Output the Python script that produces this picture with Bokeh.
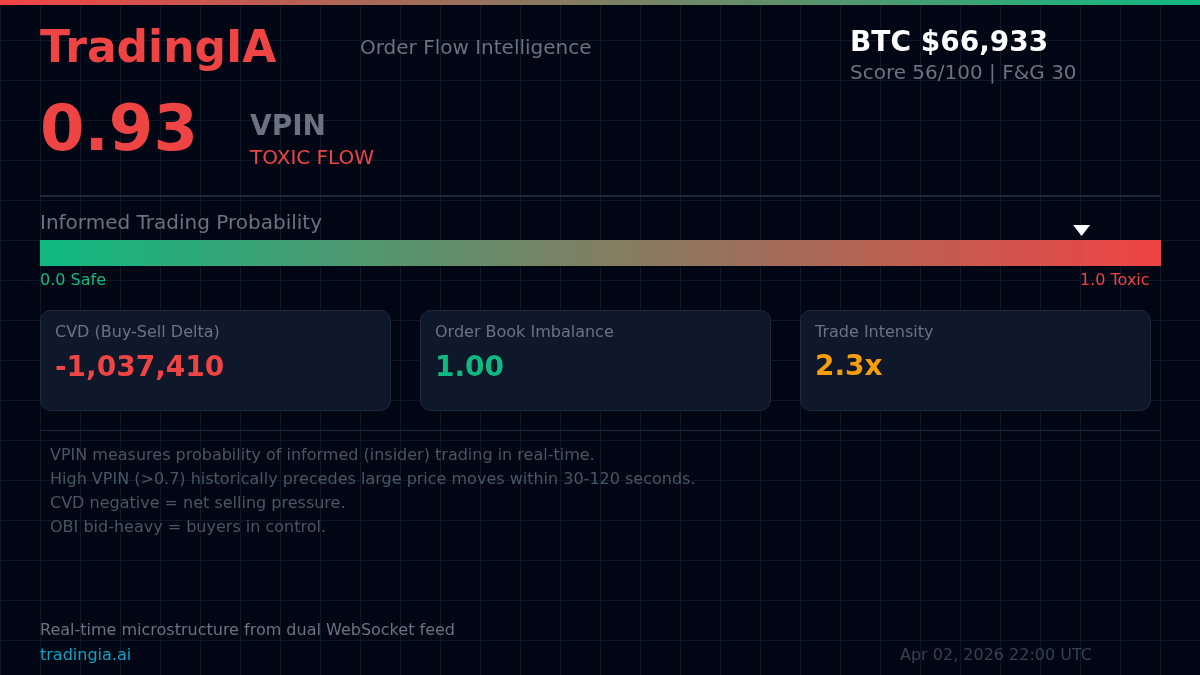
from bokeh.core.properties import value
from bokeh.embed import file_html
from bokeh.models import ColumnDataSource, FixedTicker, Range1d
from bokeh.plotting import figure
from bokeh.resources import INLINE

# values
brand = "TradingIA"
tagline = "Order Flow Intelligence"
price_label = "BTC $66,933"
score_label = "Score 56/100 | F&G 30"
vpin = 0.93
vpin_text = "0.93"
vpin_state = "TOXIC FLOW"
card_labels = ["CVD (Buy-Sell Delta)", "Order Book Imbalance", "Trade Intensity"]
card_values = ["-1,037,410", "1.00", "2.3x"]
card_colors = ["#ef4444", "#10b981", "#f59e0b"]
notes = [
    "VPIN measures probability of informed (insider) trading in real-time.",
    "High VPIN (>0.7) historically precedes large price moves within 30-120 seconds.",
    "CVD negative = net selling pressure.",
    "OBI bid-heavy = buyers in control.",
]

BG = "#000614"
GRID = "#0c1828"
RED = "#ef4444"
GREEN = "#10b981"
W, H = 1200, 675


def blend(t):
    a = (16, 185, 129)
    b = (239, 68, 68)
    return "#%02x%02x%02x" % tuple(round(a[i] + (b[i] - a[i]) * t) for i in range(3))


# one extra pixel pushed off the top left, the frame edge would show there
p = figure(width=W + 1, height=H + 1, output_backend="svg", toolbar_location=None,
           x_range=Range1d(-0.5, W + 0.5), y_range=Range1d(H + 0.5, -0.5), min_border=0,
           background_fill_color=BG, border_fill_color=BG, outline_line_color=None)
p.styles = {"position": "fixed", "left": "-1px", "top": "-1px"}
p.xaxis.visible = False
p.yaxis.visible = False
p.xgrid.ticker = FixedTicker(ticks=[x + 0.5 for x in range(0, W, 40)])
p.ygrid.ticker = FixedTicker(ticks=[y + 0.5 for y in range(40, H, 40)])
p.xgrid.grid_line_color = GRID
p.ygrid.grid_line_color = GRID


def gradient(x0, x1, top, bottom, colors):
    # each step runs under the next one so no seams show
    n = len(colors)
    left = [x0 + i * (x1 - x0) / n for i in range(n)]
    p.quad(left=left, right=[x1] * n, top=top, bottom=bottom, fill_color=colors, line_color=None)


def label(x, y, text, size, color, bold=False):
    # the svg text sits lower than its baseline by about 0.38em
    p.text(x=[x], y=[y + 1 - 0.38 * size], text=[text], text_font=value("DejaVu Sans"),
           text_font_size=f"{size}px", text_color=color, text_baseline="alphabetic",
           text_font_style="bold" if bold else "normal")


# top strip and probability bar
steps = [i / 99 for i in range(100)]
gradient(0, W, 5, 0, [blend(1 - t) for t in steps])
gradient(40, 1161, 266, 240, [blend(t) for t in steps])
marker_x = 40 + vpin * 1120
p.patch(x=[marker_x - 8.5, marker_x + 8.5, marker_x], y=[225, 225, 236], fill_color="white", line_color=None)

# rules
p.line([40, 1160], [196, 196], line_color="#1e293b", line_width=2)
p.line([40, 1160], [430.5, 430.5], line_color="#1e293b", line_width=1)

# header
label(40, 62, brand, 44, RED, True)
label(360, 54, tagline, 20, "#6b7280")
label(850, 51, price_label, 28, "#ffffff", True)
label(850, 79, score_label, 20, "#6b7280")
label(40, 150, vpin_text, 64, RED, True)
label(250, 135, "VPIN", 28, "#6b7280", True)
label(250, 164, vpin_state, 20, RED)

label(40, 229, "Informed Trading Probability", 20, "#6b7280")
label(40, 285, "0.0 Safe", 16, GREEN)
label(1080, 285, "1.0 Toxic", 16, RED)

# cards
card_x = [40, 420, 800]
cards = ColumnDataSource(data=dict(left=[x + 0.5 for x in card_x], right=[x + 350.5 for x in card_x],
                                   top=[410.5] * 3, bottom=[310.5] * 3))
p.quad(left="left", right="right", top="top", bottom="bottom", source=cards,
       fill_color="#0f172a", line_color="#1e293b", line_width=1, border_radius=10)
for x, name, val, col in zip(card_x, card_labels, card_values, card_colors):
    label(x + 15, 337, name, 16, "#6b7280")
    label(x + 15, 375, val, 28, col, True)

# notes and footer
for i, line in enumerate(notes):
    label(50, 460 + 24 * i, line, 16, "#4b5563")
label(40, 635, "Real-time microstructure from dual WebSocket feed", 16, "#6b7280")
label(40, 660, "tradingia.ai", 16, "#06a5c6")
label(900, 660, "Apr 02, 2026 22:00 UTC", 16, "#374151")

open("out.html", "w").write(file_html(p, INLINE))
